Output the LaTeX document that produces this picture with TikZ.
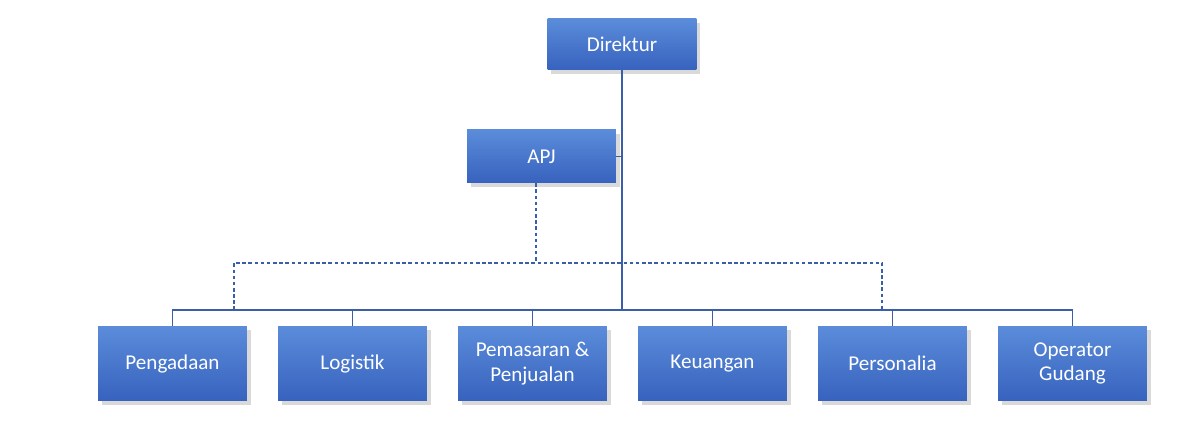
\documentclass[tikz,border=0pt]{standalone}
\usepackage{fontspec}
\setmainfont{Carlito}
\usetikzlibrary{shadows}
\definecolor{boxtop}{HTML}{5B8CDA}
\definecolor{boxbot}{HTML}{3762BE}
\definecolor{linec}{HTML}{3A5FA8}
\begin{document}
\begin{tikzpicture}[x=0.02cm, y=-0.02cm,
    unit/.style = {draw=none, top color=boxtop, bottom color=boxbot, text=white,
      minimum width=2.98cm, minimum height=1.5cm, align=center, font=\fontsize{12}{14}\selectfont,
      drop shadow={shadow xshift=2pt, shadow yshift=-2pt, opacity=0.3}},
    link/.style = {linec, line width=0.9pt},
    staff/.style = {linec, line width=0.6pt, dash pattern=on 2pt off 1.5pt}]
  \useasboundingbox (0,0) rectangle (1181,421);
  \node[unit, minimum height=1.02cm] (dir) at (622,44.5) {Direktur};
  \node[unit, minimum height=1.06cm] (apj) at (541.5,156.5) {APJ};
  \node[unit] (b1) at (172.5,363.5) {Pengadaan};
  \node[unit] (b2) at (352.5,363.5) {Logistik};
  \node[unit] (b3) at (532.5,363.5) {Pemasaran \&\\Penjualan};
  \node[unit] (b4) at (712.5,363.5) {Keuangan};
  \node[unit] (b5) at (892.5,363.5) {Personalia};
  \node[unit] (b6) at (1072.5,363.5) {Operator\\Gudang};
  \coordinate (bus) at (622,310);
  \coordinate (dl) at (234,263);
  \coordinate (dr) at (882,263);
  \coordinate (dm) at (536,263);
  % solid lines
  \draw[link] (dir.south) -- (bus);
  \draw[link] (apj.east) -- (622,156.5);
  \draw[link] (b1.north) |- (bus) -| (b6.north);
  \foreach \b in {b2,b3,b4,b5}
    \draw[link] (\b.north) -- (\b.north |- bus);
  % dashed lines
  \draw[staff] (apj.south -| dm) -- (dm);
  \draw[staff] (dl |- bus) -- (dl) -- (dr) -- (dr |- bus);
\end{tikzpicture}
\end{document}
